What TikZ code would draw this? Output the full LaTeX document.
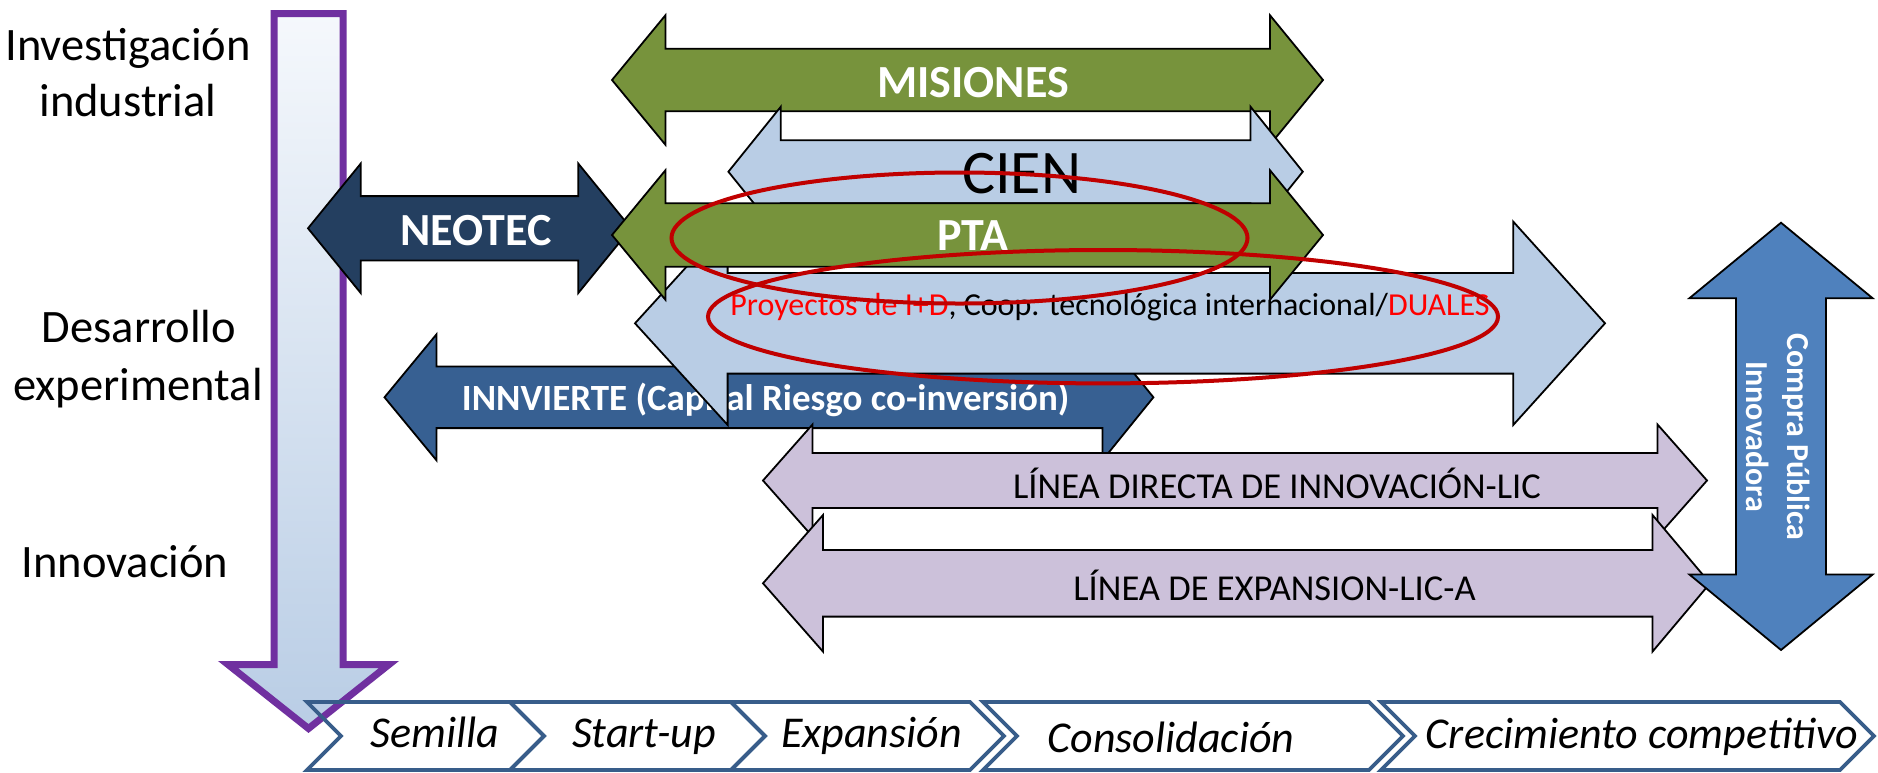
\documentclass[tikz,border=0pt]{standalone}
\usepackage{fontspec}
\setmainfont{Carlito}
\definecolor{cGreen}{HTML}{77933C}
\definecolor{cLight}{HTML}{B9CDE5}
\definecolor{cNavy}{HTML}{243F60}
\definecolor{cBlue}{HTML}{376092}
\definecolor{cLav}{HTML}{CCC1DA}
\definecolor{cCompra}{HTML}{4F81BD}
\definecolor{cChev}{HTML}{385D8A}
\definecolor{cPurple}{HTML}{7030A0}
\definecolor{cEll}{HTML}{C00000}
\definecolor{cRed}{HTML}{FF0000}
\definecolor{cTop}{HTML}{F5F8FC}
\newcommand\setfs[2]{\fontsize{#1}{#2}\selectfont}
% style, x left tip, x right tip, centre y, shaft half, head half, left head length, right head length
\newcommand\harrow[8]{%
  \draw[#1] (#2,#4) -- ({#2+#7},{#4-#6}) -- ({#2+#7},{#4-#5}) -- ({#3-#8},{#4-#5})
    -- ({#3-#8},{#4-#6}) -- (#3,#4) -- ({#3-#8},{#4+#6}) -- ({#3-#8},{#4+#5})
    -- ({#2+#7},{#4+#5}) -- ({#2+#7},{#4+#6}) -- cycle;}
\newcommand\chev[2]{%
  \draw[chevline] (#1,702) -- (#2,702) -- ({#2+34},736) -- (#2,770) -- (#1,770) -- ({#1+34},736) -- cycle;}
\begin{document}
\begin{tikzpicture}[x=1pt,y=-1pt,
  arr/.style={draw=black, line width=1.8pt, line join=miter},
  chevline/.style={draw=cChev, line width=3.8pt, line join=miter},
  lbl/.style={inner sep=0pt, anchor=base},
  side/.style={lbl, font=\setfs{46.5}{54}},
  stage/.style={lbl, font=\itshape\setfs{44}{52}},
  wbold/.style={lbl, text=white, font=\bfseries\setfs{46}{55}},
  ell/.style={draw=cEll, line width=4pt}]
\useasboundingbox (0,0) rectangle (1878,772);
\fill[white] (0,0) rectangle (1878,772);

% left labels
\node[side] (inv1) at (128,60) {Investigación};
\node[side] (inv2) at (128,116) {industrial};
\node[side] (des1) at (139,342) {Desarrollo};
\node[side] (des2) at (138,400) {experimental};
\node[side] (inn) at (125,577) {Innovación};

% purple vertical arrow
\draw[draw=cPurple, line width=7pt, line join=miter, top color=cTop, bottom color=cLight]
  (274,13.7) -- (343,13.7) -- (343,664.5) -- (389,664.5) -- (308.5,728.5)
  -- (228,664.5) -- (274,664.5) -- cycle;

% stages
\chev{307}{510}
\chev{510}{731}
\chev{731}{970}
\chev{983}{1369}
\chev{1381}{1840}
\node[stage] (s1) at (435,747) {Semilla};
\node[stage] (s2) at (644,747) {Start-up};
\node[stage] (s3) at (871.5,747) {Expansión};
\node[stage] (s4) at (1171,752) {Consolidación};
\node[stage] (s5) at (1642,748) {Crecimiento competitivo};

% MISIONES
\harrow{arr, fill=cGreen}{612}{1323}{80}{31.3}{64.7}{53.4}{53}
\node[wbold] (misiones) at (973,97.7) {MISIONES};
% CIEN
\harrow{arr, fill=cLight}{728.4}{1302.8}{171.7}{31.5}{65}{52.4}{52.3}
\node[lbl, font=\setfs{62}{74}] (cien) at (1021.7,193.3) {CIEN};
% INNVIERTE
\harrow{arr, fill=cBlue}{384.5}{1153.4}{397.3}{30.8}{63}{52}{51}
\node[lbl, text=white, font=\bfseries\setfs{37}{44}] (innvierte) at (765.6,410) {INNVIERTE (Capital Riesgo co-inversión)};
% Proyectos
\harrow{arr, fill=cLight}{635}{1605}{323.3}{50.3}{101.6}{92.6}{91.7}
\node[lbl, font=\setfs{32}{38}] (proy) at (1110,315.5) {\textcolor{cRed}{Proyectos de I+D}, Coop. tecnológica internacional/\textcolor{cRed}{DUALES}};
% NEOTEC
\harrow{arr, fill=cNavy}{308}{631}{228.3}{32.2}{64.7}{52.7}{52.7}
\node[wbold] (neotec) at (476,245) {NEOTEC};
% PTA
\harrow{arr, fill=cGreen}{612}{1323}{235}{31.7}{64.7}{53.4}{53}
\node[wbold] (pta) at (973,250) {PTA};
% LIC
\harrow{arr, fill=cLav}{763}{1707}{480.5}{27.5}{56}{49.5}{49.5}
\node[lbl, font=\setfs{36.5}{44}] (ldi) at (1277,498.3) {LÍNEA DIRECTA DE INNOVACIÓN-LIC};
\harrow{arr, fill=cLav}{763}{1710}{583.3}{33.3}{68.3}{60}{57.5}
\node[lbl, font=\setfs{36.5}{44}] (lica) at (1274.5,600) {LÍNEA DE EXPANSION-LIC-A};
% Compra Publica Innovadora
\draw[arr, fill=cCompra] (1781,222.7) -- (1872.7,298.3) -- (1826,298.3) -- (1826,574.4)
  -- (1872.7,574.4) -- (1781,650) -- (1689.3,574.4) -- (1736,574.4) -- (1736,298.3)
  -- (1689.3,298.3) -- cycle;
\node[text=white, font=\bfseries\setfs{32}{41}, align=center, rotate=-90, inner sep=0pt] (cpi) at (1778,436.7) {Compra Pública\\Innovadora};

% red ellipses
\draw[ell] (959.5,238) ellipse [x radius=288pt, y radius=65.5pt];
\draw[ell] (1103,316.7) ellipse [x radius=395pt, y radius=66.7pt];
\end{tikzpicture}
\end{document}
